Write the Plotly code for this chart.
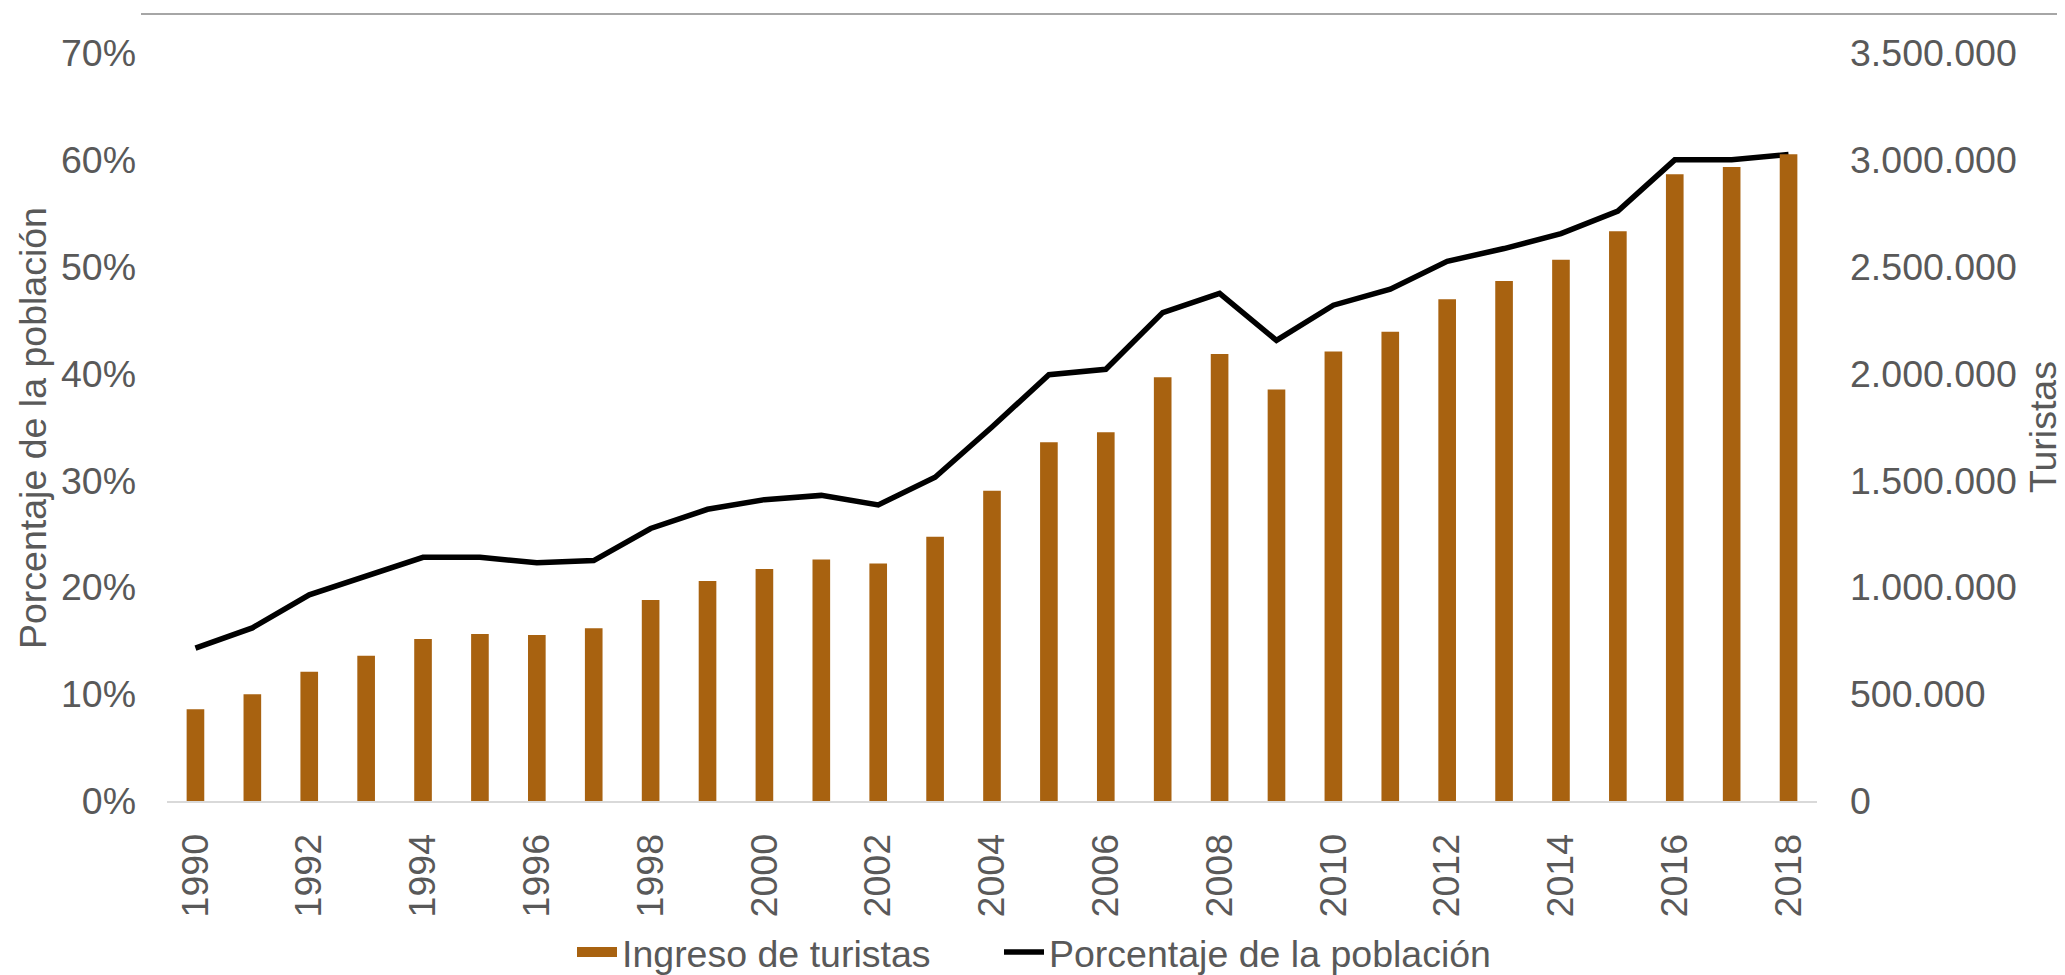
import plotly.graph_objects as go

# Ingreso de turistas y porcentaje de la población, 1990-2018
years = list(range(1990, 2019))
turistas = [429000, 499000, 605000, 680000, 758000, 781000, 777000, 808000, 941000, 1029000,
            1085000, 1130000, 1111000, 1236000, 1452000, 1679000, 1726000, 1983000, 2092000, 1925000,
            2103000, 2196000, 2348000, 2433000, 2533000, 2666000, 2933000, 2967000, 3026000]
porcentaje = [14.3, 16.2, 19.3, 21.0, 22.8, 22.8, 22.3, 22.5, 25.5, 27.3,
              28.2, 28.6, 27.7, 30.3, 35.0, 39.9, 40.4, 45.7, 47.5, 43.1,
              46.4, 47.9, 50.5, 51.7, 53.1, 55.2, 60.0, 60.0, 60.5]
year_ticks = list(range(1990, 2019, 2))
pct_ticks = [0, 10, 20, 30, 40, 50, 60, 70]
tur_ticks = [0, 500000, 1000000, 1500000, 2000000, 2500000, 3000000, 3500000]

FONT = "Liberation Sans, Arial, sans-serif"
GREY = "#595959"
BROWN = "#A86210"
# the page body adds an 8px offset, so positions below are reference minus 8
OFF = 8
W, H = 2065 - OFF, 975 - OFF
L, T = 167 - OFF, 53 - OFF
PR, PB = 1817 - OFF, 801 - OFF
R, B = W - PR, H - PB
pw = PR - L
ph = PB - T


def px_x(x):
    return (x - OFF - L) / pw


def px_y(y):
    return (PB - (y - OFF)) / ph


fig = go.Figure()
fig.add_trace(go.Bar(x=years, y=turistas, name="Ingreso de turistas",
                     marker=dict(color=BROWN, line=dict(width=0)),
                     width=0.31, yaxis="y2", showlegend=False))
# legend entry for the bars, drawn as a thick swatch
fig.add_trace(go.Scatter(x=[None], y=[None], name="Ingreso de turistas", mode="lines",
                         line=dict(color=BROWN, width=26), yaxis="y2", legend="legend"))
fig.add_trace(go.Scatter(x=years, y=porcentaje, name="Porcentaje de la población",
                         mode="lines", line=dict(color="black", width=5.5), yaxis="y",
                         legend="legend2"))

legend_style = dict(orientation="h", xanchor="left", yanchor="middle", y=px_y(952),
                    font=dict(size=37.5, color=GREY), itemwidth=40,
                    bgcolor="rgba(0,0,0,0)")

fig.update_layout(
    width=W, height=H,
    margin=dict(l=L, r=R, t=T, b=B, autoexpand=False),
    paper_bgcolor="white", plot_bgcolor="white",
    font=dict(family=FONT, size=37.5, color=GREY),
    separators=",.",
    showlegend=True,
    legend=dict(x=px_x(572), **legend_style),
    legend2=dict(x=px_x(999), **legend_style),
    xaxis=dict(range=[1989.5, 2018.5], tickmode="array", tickvals=year_ticks,
               ticktext=[str(y) for y in year_ticks],
               tickangle=-90, showgrid=False, zeroline=False, showline=True,
               linecolor="#D9D9D9", linewidth=2, ticks="", ticklabelstandoff=16,
               tickfont=dict(size=37.5, color=GREY)),
    yaxis=dict(range=[0, 70], tickmode="array", tickvals=pct_ticks,
               ticktext=["{}%".format(v) for v in pct_ticks], showgrid=False,
               zeroline=False, showline=False, ticks="", ticklabelstandoff=30,
               tickfont=dict(size=37.5, color=GREY)),
    yaxis2=dict(range=[0, 3500000], tickmode="array", tickvals=tur_ticks, tickformat=",d",
                overlaying="y", side="right", showgrid=False, zeroline=False, showline=False,
                ticks="", ticklabelstandoff=32, tickfont=dict(size=37.5, color=GREY)),
    annotations=[
        dict(text="Porcentaje de la población", textangle=-90, xref="paper", yref="paper",
             x=px_x(33), y=px_y(428), xanchor="center", yanchor="middle",
             showarrow=False, font=dict(size=37.5, color=GREY)),
        dict(text="Turistas", textangle=-90, xref="paper", yref="paper",
             x=px_x(2043), y=px_y(427), xanchor="center", yanchor="middle",
             showarrow=False, font=dict(size=37.5, color=GREY)),
    ],
    shapes=[
        dict(type="line", xref="paper", yref="paper",
             x0=px_x(141), x1=px_x(2065), y0=px_y(14), y1=px_y(14),
             line=dict(color="#A6A6A6", width=2)),
    ],
)

fig.write_html("out.html")
